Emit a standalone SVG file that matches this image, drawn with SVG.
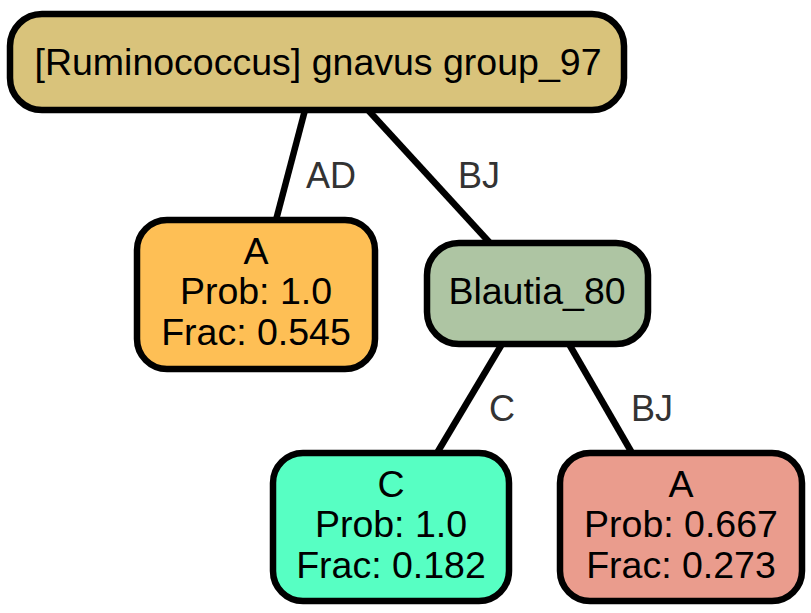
<svg xmlns="http://www.w3.org/2000/svg" width="811" height="613" viewBox="0 0 811 613">
<style>
.n rect{stroke:#000;stroke-width:6.5}
.n text{font-family:"Liberation Sans",Arial,Helvetica,sans-serif;font-size:37.5px;fill:#000;text-anchor:middle}
.e line{stroke:#000;stroke-width:6.5}
.e text{font-family:"Liberation Sans",Arial,Helvetica,sans-serif;font-size:36px;fill:#333;text-anchor:start}
</style>
<rect width="811" height="613" fill="#fff"/>
<g id="edges" class="e">
<line x1="305" y1="110" x2="276" y2="220"/>
<line x1="368" y1="110" x2="490" y2="243"/>
<line x1="502" y1="344" x2="437" y2="453"/>
<line x1="569" y1="344" x2="632" y2="453"/>
<text x="306" y="188">AD</text>
<text x="458" y="188">BJ</text>
<text x="489" y="421">C</text>
<text x="631" y="421">BJ</text>
</g>
<g id="root" class="n">
<rect x="10" y="14" width="614" height="96" rx="32" fill="#D9C37B"/>
<text x="318" y="75">[Ruminococcus] gnavus group_97</text>
</g>
<g id="leafA" class="n">
<rect x="137" y="220" width="238" height="149" rx="30" fill="#FEBF55"/>
<text x="256" y="264">A</text>
<text x="256" y="304">Prob: 1.0</text>
<text x="256" y="345">Frac: 0.545</text>
</g>
<g id="blautia" class="n">
<rect x="427" y="243" width="221" height="101" rx="32" fill="#AEC5A3"/>
<text x="537" y="304">Blautia_80</text>
</g>
<g id="leafC" class="n">
<rect x="273" y="453" width="236" height="148" rx="30" fill="#57FFC3"/>
<text x="391" y="497">C</text>
<text x="391" y="537">Prob: 1.0</text>
<text x="391" y="578">Frac: 0.182</text>
</g>
<g id="leafA2" class="n">
<rect x="560" y="453" width="242" height="148" rx="30" fill="#EA9C8D"/>
<text x="681" y="497">A</text>
<text x="681" y="537">Prob: 0.667</text>
<text x="681" y="578">Frac: 0.273</text>
</g>
</svg>
